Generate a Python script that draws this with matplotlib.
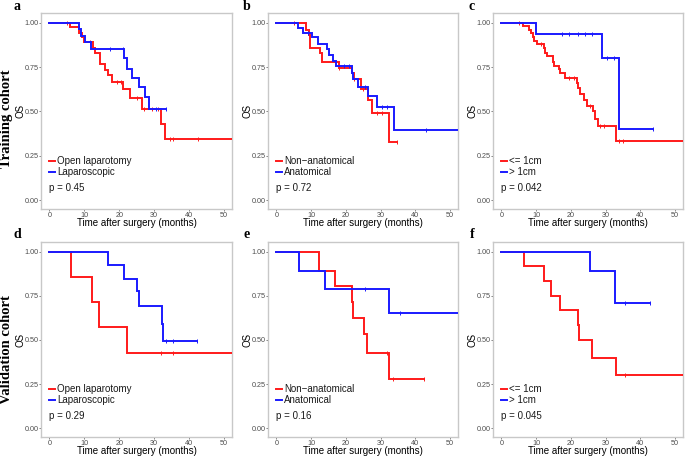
import numpy as np
import matplotlib
matplotlib.use("Agg")
import matplotlib.pyplot as plt

plt.rcParams['font.family'] = ['Liberation Sans', 'DejaVu Sans']

# ---------------- data (event times, survival after each event, end time, censor times)
a_red_t = [0, 6.0, 8.4, 9.3, 10.0, 12.6, 13.2, 14.5, 16.0, 16.8, 18.0, 21.2, 23.1, 26.5, 32.0, 33.1]
a_red_s = [1.0, 0.977, 0.945, 0.92, 0.893, 0.86, 0.83, 0.77, 0.733, 0.705, 0.667, 0.624, 0.577, 0.511, 0.43, 0.342]
a_red_end = 55
a_red_c = [5.0, 11.5, 19.5, 20.5, 25.0, 27.0, 29.5, 31.0, 34.5, 35.5, 42.5]
a_blue_t = [0, 8.4, 9.0, 10.2, 11.9, 21.3, 22.2, 23.8, 25.6, 27.3, 28.4]
a_blue_s = [1.0, 0.962, 0.925, 0.89, 0.85, 0.80, 0.74, 0.69, 0.64, 0.583, 0.511]
a_blue_end = 33.4
a_blue_c = [17.5, 21.0, 30.5, 33.4]

b_red_t = [0, 8.5, 9.3, 9.75, 12.6, 13.1, 17.9, 21.9, 22.4, 24.4, 26.3, 27.6, 32.5]
b_red_s = [1.0, 0.96, 0.93, 0.86, 0.827, 0.78, 0.746, 0.714, 0.684, 0.626, 0.564, 0.492, 0.329]
b_red_end = 34.6
b_red_c = [5.0, 18.0, 22.5, 25.0, 29.0, 30.5, 34.6]
b_blue_t = [0, 6.2, 7.6, 10.4, 12.1, 14.7, 15.2, 16.4, 17.2, 21.7, 22.0, 23.6, 26.5, 28.9, 33.9]
b_blue_s = [1.0, 0.97, 0.945, 0.917, 0.883, 0.85, 0.82, 0.786, 0.757, 0.715, 0.682, 0.64, 0.586, 0.526, 0.395]
b_blue_end = 55
b_blue_c = [9.0, 19.5, 21.0, 25.5, 30.5, 32.0, 43.0]

c_red_t = [0, 6.2, 7.9, 8.6, 9.1, 9.5, 10.4, 12.2, 12.6, 13.1, 14.8, 15.2, 16.5, 17.0, 18.4,
           21.7, 22.2, 22.7, 23.9, 24.6, 26.3, 27.0, 27.8, 33.0]
c_red_s = [1.0, 0.98, 0.96, 0.94, 0.92, 0.898, 0.878, 0.855, 0.83, 0.81, 0.78, 0.757, 0.74, 0.714, 0.69,
           0.66, 0.63, 0.596, 0.564, 0.53, 0.50, 0.46, 0.42, 0.335]
c_red_end = 55
c_red_c = [5.0, 11.5, 19.5, 21.0, 25.5, 28.5, 29.5, 34.0, 35.0]
c_blue_t = [0, 10.0, 29.1, 34.0]
c_blue_s = [1.0, 0.934, 0.80, 0.40]
c_blue_end = 43.6
c_blue_c = [17.5, 19.5, 22.0, 24.0, 26.0, 30.5, 32.5, 43.6]

d_red_t = [0, 6.3, 12.3, 14.1, 22.1]
d_red_s = [1.0, 0.857, 0.714, 0.571, 0.428]
d_red_end = 55
d_red_c = [32.0, 35.5]
d_blue_t = [0, 16.8, 21.5, 25.0, 25.7, 32.3, 32.5]
d_blue_s = [1.0, 0.923, 0.846, 0.78, 0.69, 0.59, 0.492]
d_blue_end = 42.2
d_blue_c = [33.5, 35.5, 42.2]

e_red_t = [0, 12.4, 16.9, 21.8, 22.2, 25.2, 26.0, 32.5]
e_red_s = [1.0, 0.89, 0.805, 0.715, 0.625, 0.535, 0.425, 0.28]
e_red_end = 42.4
e_red_c = [32.0, 33.5, 42.4]
e_blue_t = [0, 6.5, 14.1, 32.4]
e_blue_s = [1.0, 0.89, 0.787, 0.655]
e_blue_end = 55
e_blue_c = [25.5, 35.5]

f_red_t = [0, 6.5, 12.3, 14.2, 17.0, 22.0, 22.5, 26.1, 33.0]
f_red_s = [1.0, 0.917, 0.833, 0.75, 0.667, 0.583, 0.50, 0.40, 0.30]
f_red_end = 55
f_red_c = [35.5]
f_blue_t = [0, 25.4, 32.6]
f_blue_s = [1.0, 0.889, 0.711]
f_blue_end = 42.8
f_blue_c = [35.5, 42.8]

panel_letters = ['a', 'b', 'c', 'd', 'e', 'f']
legend_labels = [('Open laparotomy', 'Laparoscopic'), ('Non\u2212anatomical', 'Anatomical'), ('<= 1cm', '> 1cm'),
                 ('Open laparotomy', 'Laparoscopic'), ('Non\u2212anatomical', 'Anatomical'), ('<= 1cm', '> 1cm')]
p_values = ['p = 0.45', 'p = 0.72', 'p = 0.042', 'p = 0.29', 'p = 0.16', 'p = 0.045']
row_titles = ['Training cohort', 'Validation cohort']
x_ticks = [0, 10, 20, 30, 40, 50]
y_ticks = [0.00, 0.25, 0.50, 0.75, 1.00]

curves = [
    ((a_red_t, a_red_s, a_red_end, a_red_c), (a_blue_t, a_blue_s, a_blue_end, a_blue_c)),
    ((b_red_t, b_red_s, b_red_end, b_red_c), (b_blue_t, b_blue_s, b_blue_end, b_blue_c)),
    ((c_red_t, c_red_s, c_red_end, c_red_c), (c_blue_t, c_blue_s, c_blue_end, c_blue_c)),
    ((d_red_t, d_red_s, d_red_end, d_red_c), (d_blue_t, d_blue_s, d_blue_end, d_blue_c)),
    ((e_red_t, e_red_s, e_red_end, e_red_c), (e_blue_t, e_blue_s, e_blue_end, e_blue_c)),
    ((f_red_t, f_red_s, f_red_end, f_red_c), (f_blue_t, f_blue_s, f_blue_end, f_blue_c)),
]

RED = '#FF1A1A'
BLUE = '#1A1AFF'
W, H = 685, 458
fig = plt.figure(figsize=(W / 100, H / 100), dpi=100)

col_px = [(41, 232), (268, 458), (493, 683)]
row_px = [(13, 209), (242, 437)]


def km(ax, t, s, end, cens, color):
    xs = list(t) + [end]
    ys = list(s) + [s[-1]]
    ax.step(xs, ys, where='post', color=color, lw=1.4, solid_joinstyle='miter', zorder=3)
    tt = np.array(t)
    ss = np.array(s)
    cv = [ss[np.searchsorted(tt, c, side='right') - 1] for c in cens]
    ax.plot(cens, cv, ls='none', marker='|', ms=3.0, mew=0.7, color=color, zorder=3)


for i in range(6):
    r, c = divmod(i, 3)
    x0, x1 = col_px[c]
    y0, y1 = row_px[r]
    ax = fig.add_axes([x0 / W, 1 - y1 / H, (x1 - x0) / W, (y1 - y0) / H])
    (rc, bc) = curves[i]
    km(ax, *rc, RED)
    km(ax, *bc, BLUE)
    ax.set_xlim(-2.4, 52.3)
    ax.set_ylim(-0.05, 1.055)
    ax.set_xticks(x_ticks)
    ax.set_yticks(y_ticks)
    ax.set_yticklabels(['%.2f' % v for v in y_ticks])
    ax.tick_params(axis='both', labelsize=5.2, colors='#4D4D4D', length=1.5, width=0.5, pad=0.4)
    for sp in ax.spines.values():
        sp.set_color('#C8C8C8')
        sp.set_linewidth(1.0)
    ax.set_xlabel('Time after surgery (months)', fontsize=7, labelpad=-0.5)
    ax.set_ylabel('OS', fontsize=7, labelpad=-0.6)
    # legend
    lab1, lab2 = legend_labels[i]
    for k, (lab, col) in enumerate([(lab1, RED), (lab2, BLUE)]):
        yy = 0.245 - k * 0.056
        ax.plot([0.043, 0.073], [yy, yy], transform=ax.transAxes, color=col, lw=1.4, clip_on=False)
        ax.text(0.086, yy, lab, transform=ax.transAxes, fontsize=7, va='center', ha='left', color='#1A1A1A')
    ax.text(0.043, 0.107, p_values[i], transform=ax.transAxes, fontsize=7, va='center', ha='left', color='#1A1A1A')
    # panel letter
    lx = [17, 247, 472][c]
    fig.text(lx / W, 1 - (y0 - 7) / H, panel_letters[i], fontsize=10, fontweight='bold',
             family=['Liberation Serif', 'DejaVu Serif'], ha='center', va='center')

fig.text(7 / W, 1 - 119 / H, row_titles[0], rotation=90, fontsize=10.5, fontweight='bold',
         family=['Liberation Serif', 'DejaVu Serif'], ha='center', va='center')
fig.text(7 / W, 1 - 350 / H, row_titles[1], rotation=90, fontsize=10.5, fontweight='bold',
         family=['Liberation Serif', 'DejaVu Serif'], ha='center', va='center')

fig.savefig('out.png', dpi=100)
